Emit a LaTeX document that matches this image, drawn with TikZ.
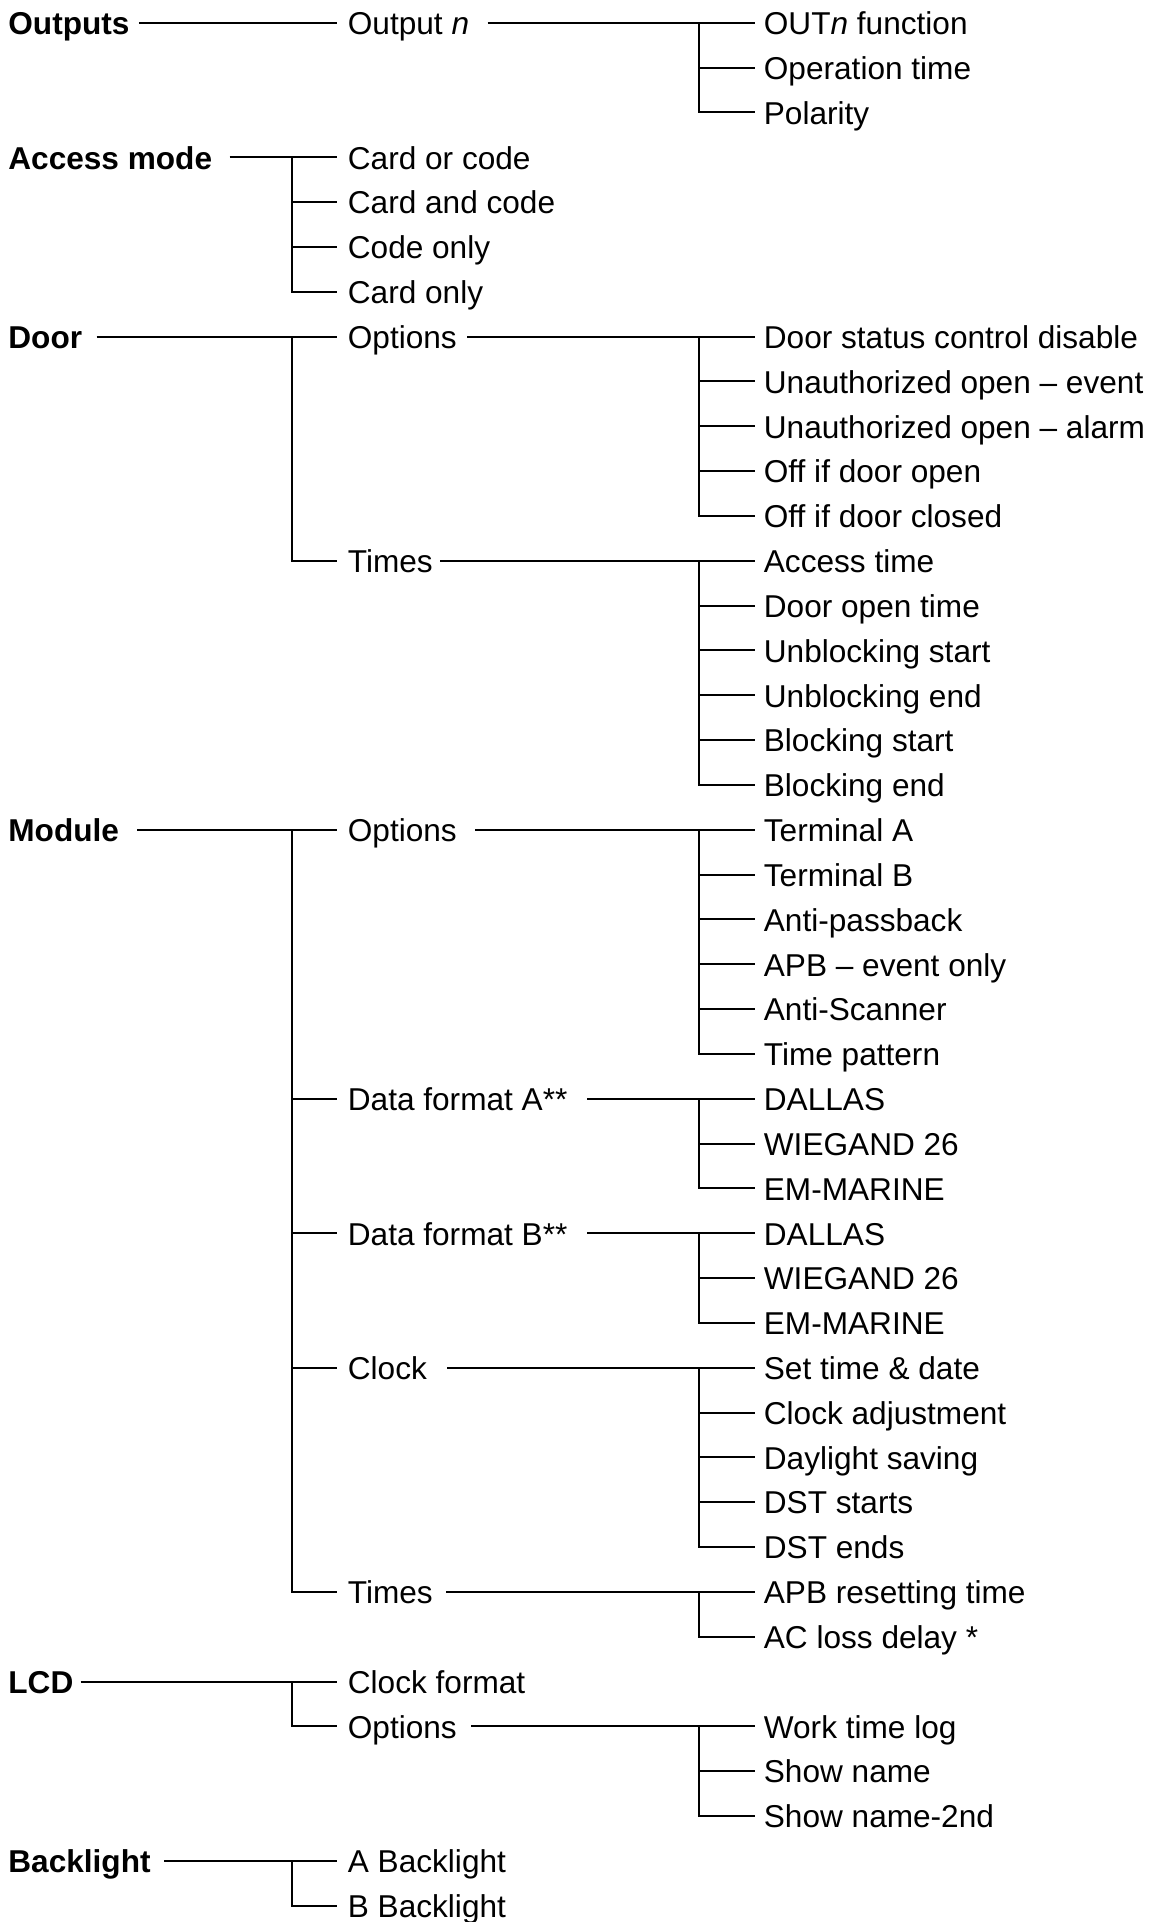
\documentclass[tikz,border=0pt]{standalone}
\usepackage{fontspec}
\setmainfont{Liberation Sans}
\begin{document}
\begin{tikzpicture}[x=0.5pt,y=-22.415pt,
  every node/.style={inner sep=0pt, anchor=west, text height=11.8pt, text depth=0pt,
    font=\fontsize{15.8}{18}\selectfont},
  lzero/.style={font=\fontsize{15.8}{18}\selectfont\bfseries},
  conn/.style={line width=1pt, line join=miter}]
\useasboundingbox (0,-0.5085) rectangle (1154,42.365);
\coordinate (v1) at (291.6,0);
\coordinate (v2) at (699,0);
% level 0
\node[lzero] (outputs)   at (8,0)  {Outputs};
\node[lzero] (access)    at (8,3)  {Access mode};
\node[lzero] (door)      at (8,7)  {Door};
\node[lzero] (module)    at (8,18) {Module};
\node[lzero] (lcd)       at (8,37) {LCD};
\node[lzero] (backlight) at (8,41) {Backlight};
% level 1
\node (outn)   at (347.5,0)  {Output \textit{n}};
\node (ac1)    at (347.5,3)  {Card or code};
\node (ac2)    at (347.5,4)  {Card and code};
\node (ac3)    at (347.5,5)  {Code only};
\node (ac4)    at (347.5,6)  {Card only};
\node (dopt)   at (347.5,7)  {Options};
\node (dtimes) at (347.5,12) {Times};
\node (mopt)   at (347.5,18) {Options};
\node (dfa)    at (347.5,24) {Data format A**};
\node (dfb)    at (347.5,27) {Data format B**};
\node (clock)  at (347.5,30) {Clock};
\node (mtimes) at (347.5,35) {Times};
\node (clkfmt) at (347.5,37) {Clock format};
\node (lopt)   at (347.5,38) {Options};
\node (bla)    at (347.5,41) {A Backlight};
\node (blb)    at (347.5,42) {B Backlight};
% level 2
\node (on1) at (763.5,0) {OUT\textit{n} function};
\node (on2) at (763.5,1) {Operation time};
\node (on3) at (763.5,2) {Polarity};
\node (do1) at (763.5,7)  {Door status control disable};
\node (do2) at (763.5,8)  {Unauthorized open -- event};
\node (do3) at (763.5,9)  {Unauthorized open -- alarm};
\node (do4) at (763.5,10) {Off if door open};
\node (do5) at (763.5,11) {Off if door closed};
\node (dt1) at (763.5,12) {Access time};
\node (dt2) at (763.5,13) {Door open time};
\node (dt3) at (763.5,14) {Unblocking start};
\node (dt4) at (763.5,15) {Unblocking end};
\node (dt5) at (763.5,16) {Blocking start};
\node (dt6) at (763.5,17) {Blocking end};
\node (mo1) at (763.5,18) {Terminal A};
\node (mo2) at (763.5,19) {Terminal B};
\node (mo3) at (763.5,20) {Anti-passback};
\node (mo4) at (763.5,21) {APB -- event only};
\node (mo5) at (763.5,22) {Anti-Scanner};
\node (mo6) at (763.5,23) {Time pattern};
\node (fa1) at (763.5,24) {DALLAS};
\node (fa2) at (763.5,25) {WIEGAND 26};
\node (fa3) at (763.5,26) {EM-MARINE};
\node (fb1) at (763.5,27) {DALLAS};
\node (fb2) at (763.5,28) {WIEGAND 26};
\node (fb3) at (763.5,29) {EM-MARINE};
\node (ck1) at (763.5,30) {Set time \& date};
\node (ck2) at (763.5,31) {Clock adjustment};
\node (ck3) at (763.5,32) {Daylight saving};
\node (ck4) at (763.5,33) {DST starts};
\node (ck5) at (763.5,34) {DST ends};
\node (mt1) at (763.5,35) {APB resetting time};
\node (mt2) at (763.5,36) {AC loss delay *};
\node (lo1) at (763.5,38) {Work time log};
\node (lo2) at (763.5,39) {Show name};
\node (lo3) at (763.5,40) {Show name-2nd};
% level 0 -> level 1 header lines
\draw[conn] ([xshift=4.5pt]outputs.east)  -- ([xshift=-5.25pt]outn.west);
\draw[conn] ([xshift=8.5pt]access.east)   -- ([xshift=-5.25pt]ac1.west);
\draw[conn] ([xshift=7pt]door.east)       -- ([xshift=-5.25pt]dopt.west);
\draw[conn] ([xshift=9pt]module.east)     -- ([xshift=-5.25pt]mopt.west);
\draw[conn] ([xshift=3.5pt]lcd.east)      -- ([xshift=-5.25pt]clkfmt.west);
\draw[conn] ([xshift=6.5pt]backlight.east) -- ([xshift=-5.25pt]bla.west);
% level 1 verticals and branches
\draw[conn] (v1 |- ac1.west) -- (v1 |- ac4.west) -- ([xshift=-5.25pt]ac4.west);
\foreach \n in {ac2,ac3} \draw[conn] (v1 |- \n.west) -- ([xshift=-5.25pt]\n.west);
\draw[conn] (v1 |- dopt.west) -- (v1 |- dtimes.west) -- ([xshift=-5.25pt]dtimes.west);
\draw[conn] (v1 |- mopt.west) -- (v1 |- mtimes.west) -- ([xshift=-5.25pt]mtimes.west);
\foreach \n in {dfa,dfb,clock} \draw[conn] (v1 |- \n.west) -- ([xshift=-5.25pt]\n.west);
\draw[conn] (v1 |- clkfmt.west) -- (v1 |- lopt.west) -- ([xshift=-5.25pt]lopt.west);
\draw[conn] (v1 |- bla.west) -- (v1 |- blb.west) -- ([xshift=-5.25pt]blb.west);
% level 1 -> level 2 header lines
\draw[conn] ([xshift=9pt]outn.east)    -- ([xshift=-4.25pt]on1.west);
\draw[conn] ([xshift=5pt]dopt.east)    -- ([xshift=-4.25pt]do1.west);
\draw[conn] ([xshift=3.5pt]dtimes.east) -- ([xshift=-4.25pt]dt1.west);
\draw[conn] ([xshift=9pt]mopt.east)    -- ([xshift=-4.25pt]mo1.west);
\draw[conn] ([xshift=9.75pt]dfa.east)  -- ([xshift=-4.25pt]fa1.west);
\draw[conn] ([xshift=9.75pt]dfb.east)  -- ([xshift=-4.25pt]fb1.west);
\draw[conn] ([xshift=10pt]clock.east)  -- ([xshift=-4.25pt]ck1.west);
\draw[conn] ([xshift=6.5pt]mtimes.east) -- ([xshift=-4.25pt]mt1.west);
\draw[conn] ([xshift=7pt]lopt.east)    -- ([xshift=-4.25pt]lo1.west);
% level 2 verticals and branches
\draw[conn] (v2 |- on1.west) -- (v2 |- on3.west) -- ([xshift=-4.25pt]on3.west);
\draw[conn] (v2 |- on2.west) -- ([xshift=-4.25pt]on2.west);
\draw[conn] (v2 |- do1.west) -- (v2 |- do5.west) -- ([xshift=-4.25pt]do5.west);
\foreach \n in {do2,do3,do4} \draw[conn] (v2 |- \n.west) -- ([xshift=-4.25pt]\n.west);
\draw[conn] (v2 |- dt1.west) -- (v2 |- dt6.west) -- ([xshift=-4.25pt]dt6.west);
\foreach \n in {dt2,dt3,dt4,dt5} \draw[conn] (v2 |- \n.west) -- ([xshift=-4.25pt]\n.west);
\draw[conn] (v2 |- mo1.west) -- (v2 |- mo6.west) -- ([xshift=-4.25pt]mo6.west);
\foreach \n in {mo2,mo3,mo4,mo5} \draw[conn] (v2 |- \n.west) -- ([xshift=-4.25pt]\n.west);
\draw[conn] (v2 |- fa1.west) -- (v2 |- fa3.west) -- ([xshift=-4.25pt]fa3.west);
\draw[conn] (v2 |- fa2.west) -- ([xshift=-4.25pt]fa2.west);
\draw[conn] (v2 |- fb1.west) -- (v2 |- fb3.west) -- ([xshift=-4.25pt]fb3.west);
\draw[conn] (v2 |- fb2.west) -- ([xshift=-4.25pt]fb2.west);
\draw[conn] (v2 |- ck1.west) -- (v2 |- ck5.west) -- ([xshift=-4.25pt]ck5.west);
\foreach \n in {ck2,ck3,ck4} \draw[conn] (v2 |- \n.west) -- ([xshift=-4.25pt]\n.west);
\draw[conn] (v2 |- mt1.west) -- (v2 |- mt2.west) -- ([xshift=-4.25pt]mt2.west);
\draw[conn] (v2 |- lo1.west) -- (v2 |- lo3.west) -- ([xshift=-4.25pt]lo3.west);
\draw[conn] (v2 |- lo2.west) -- ([xshift=-4.25pt]lo2.west);
\end{tikzpicture}
\end{document}
